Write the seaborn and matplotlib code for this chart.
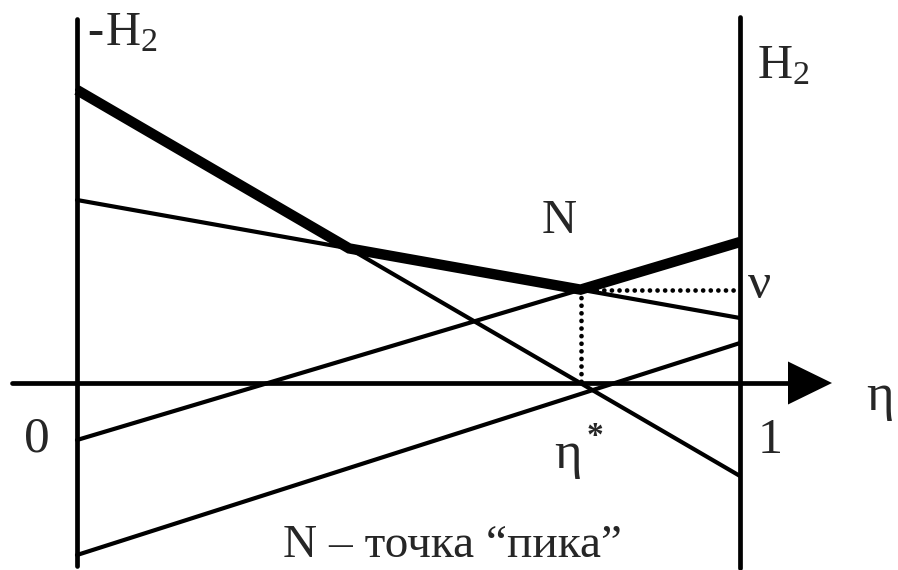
import numpy as np
import pandas as pd
import matplotlib
matplotlib.use("Agg")
import matplotlib.pyplot as plt
from matplotlib.patches import Polygon
import seaborn as sns

sns.set_theme(style="white")
plt.rcParams['font.family'] = ['Liberation Serif', 'DejaVu Serif']
plt.rcParams['mathtext.fontset'] = 'custom'
plt.rcParams['mathtext.rm'] = 'Liberation Serif'

# ---- data ----
eta_ends = [0.0, 1.0]
line_names = ["L1", "L2", "L3", "L4"]
line_left = [2.93, 1.83, -0.57, -1.72]    # values at eta = 0
line_right = [-0.93, 0.65, 1.41, 0.40]    # values at eta = 1
bound_top = 3.64
bound_bottom = -1.83

label_left_sign = "-"
label_H2 = r"$\mathregular{H_2}$"
label_N = "N"
label_nu = "ν"
label_eta = "η"
label_eta_star = "η"
tick_labels = ["0", "1"]
caption = "N – точка “пика”"

# ---- figure ----
fig = plt.figure(figsize=(8.98, 5.70), dpi=100)
ax = fig.add_axes([0, 0, 1, 1])
ax.set_xlim(-77 / 663, 821 / 663)
ax.set_ylim(-1.87, 3.83)
ax.axis("off")

df = pd.DataFrame({
    "eta": eta_ends * len(line_names),
    "value": [v for l, r in zip(line_left, line_right) for v in (l, r)],
    "line": [n for n in line_names for _ in eta_ends],
})
sns.lineplot(data=df, x="eta", y="value", units="line", estimator=None,
             color="black", lw=3.0, ax=ax, legend=False)

# upper envelope (thick) computed from lines
L = np.array(line_left); R = np.array(line_right)
bps = {0.0, 1.0}
for i in range(4):
    for j in range(i + 1, 4):
        d = (R[i] - L[i]) - (R[j] - L[j])
        if d != 0:
            t = (L[j] - L[i]) / d
            if 0 < t < 1:
                bps.add(t)
ts = np.array(sorted(bps))
env = np.max(L[:, None] + (R - L)[:, None] * ts[None, :], axis=0)
env_df = pd.DataFrame({"eta": ts, "value": env})
sns.lineplot(data=env_df, x="eta", y="value", color="black", lw=7.5,
             ax=ax, legend=False, sort=False,
             solid_joinstyle="miter", solid_capstyle="butt")

# N point: intersection of L2 and L3
tN = (L[2] - L[1]) / ((R[1] - L[1]) - (R[2] - L[2]))
yN = L[1] + (R[1] - L[1]) * tN
dot = dict(color="black", lw=3.4, linestyle=(0, (0.01, 1.6)),
           dash_capstyle="round")
ax.plot([tN, tN], [yN, 0], **dot)
ax.plot([tN, 1.0], [yN, yN], **dot)

# boundaries
ax.plot([0, 0], [bound_top, bound_bottom], color="black", lw=3.4,
        solid_capstyle="round")
ax.plot([1, 1], [bound_top + 0.02, bound_bottom - 0.02], color="black",
        lw=3.4, solid_capstyle="round")

# axis with arrow
x_start = (12 - 77) / 663
x_base = (788 - 77) / 663
x_tip = (832 - 77) / 663
ax.plot([x_start, x_base + 0.01], [0, 0], color="black", lw=3.4,
        solid_capstyle="round")
ax.add_patch(Polygon([[x_base, 0.215], [x_tip, 0.0], [x_base, -0.215]],
                     closed=True, color="black", lw=0))

# texts
fs = 35
ax.text((87 - 77) / 663, 3.38, label_left_sign, fontsize=fs, ha="left", va="baseline")
ax.text((105 - 77) / 663, 3.38, label_H2, fontsize=fs, ha="left", va="baseline")
ax.text((757 - 77) / 663, 3.05, label_H2, fontsize=fs, ha="left", va="baseline")
ax.text((559 - 77) / 663, 1.50, label_N, fontsize=35, ha="center", va="baseline")
ax.text((748 - 77) / 663, 0.85, label_nu, fontsize=37, ha="left", va="baseline")
ax.text((866 - 77) / 663, -0.27, label_eta, fontsize=38, ha="left", va="baseline")
ax.text((37 - 77) / 663, -0.69, tick_labels[0], fontsize=37, ha="center", va="baseline")
ax.text((770 - 77) / 663, -0.70, tick_labels[1], fontsize=36, ha="center", va="baseline")
ax.text((554 - 77) / 663, -0.85, label_eta_star, fontsize=38, ha="left", va="baseline")
ax.text((595 - 77) / 663, (383 - 436) / 100, "*", fontsize=24, ha="center",
        va="center", fontweight="bold")
ax.text((452 - 77) / 663, -1.74, caption, fontsize=34, ha="center", va="baseline")

fig.savefig("out.png", dpi=100, facecolor="white")
